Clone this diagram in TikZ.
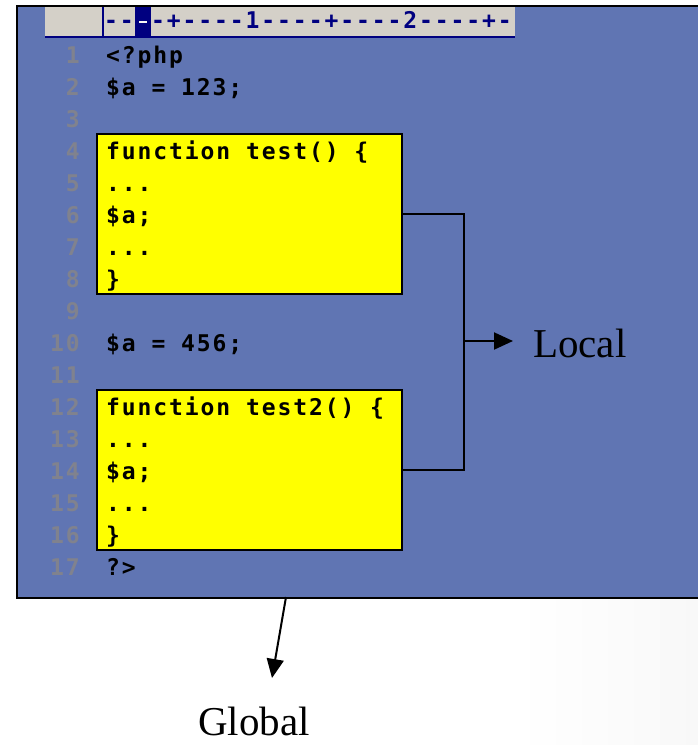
\documentclass[tikz,border=0pt]{standalone}
\usepackage{fontspec}
\setmainfont{Liberation Serif}
\newfontfamily\codefont[LetterSpace=8.3]{DejaVu Sans Mono}
\usetikzlibrary{arrows.meta}
\definecolor{panelblue}{RGB}{96,117,179}
\definecolor{boxyellow}{RGB}{255,255,0}
\definecolor{rulergray}{RGB}{212,208,200}
\definecolor{rulerblue}{RGB}{0,0,128}
\definecolor{lnumgray}{RGB}{128,130,142}
\pgfdeclarehorizontalshading{bgshade}{100bp}{color(0bp)=(white); color(62bp)=(white); color(100bp)=(black!8)}
\tikzset{
  panelbox/.style={draw=black, line width=1.5pt, fill=panelblue, anchor=north west, inner sep=0pt},
  codebox/.style={draw=black, line width=1.5pt, fill=boxyellow, anchor=north west, inner sep=0pt, minimum width=305pt, minimum height=160pt},
  codeline/.style={anchor=base west, inner sep=0pt, font=\codefont\bfseries\fontsize{23}{26}\selectfont, text=black},
  rulertext/.style={anchor=base west, inner sep=0pt, font=\codefont\bfseries\fontsize{23}{26}\selectfont, text=rulerblue},
  linenum/.style={anchor=base east, inner sep=0pt, font=\codefont\bfseries\fontsize{23}{26}\selectfont, text=lnumgray},
  label/.style={anchor=base west, inner sep=0pt, font=\fontsize{41}{46}\selectfont, text=black},
  conn/.style={line width=1.5pt, draw=black},
  arr/.style={line width=2pt, draw=black, -{Triangle[length=19pt,width=17pt]}}
}
\begin{document}
\begin{tikzpicture}[x=1pt,y=-1pt]
\useasboundingbox (0,0) rectangle (698,745);
\clip (0,0) rectangle (698,745);
% background
\shade[shading=bgshade] (0,597) rectangle (698,745);
% panel
\node[panelbox, minimum width=700pt, minimum height=592pt] (panel) at (16,5) {};
% ruler
\fill[rulergray] (45,7) rectangle (515,37);
\draw[rulerblue, line width=2pt] (45,37) -- (515,37);
\draw[rulerblue, line width=1.5pt] (103,7) -- (103,37);
\fill[rulerblue] (135,7) rectangle (151,37);
\draw[white!80!rulergray, line width=2pt] (139,22) -- (147,22);
\node[rulertext] (r1) at (104,28) {--};
\node[rulertext] (r2) at (151,28) {-+----1----+----2----+-};
% line numbers
\foreach \k in {1,...,17} {
  \node[linenum] (ln\k) at (80,{63+32*(\k-1)}) {\k};
}
% yellow boxes
\node[codebox] (box1) at (96,133) {};
\node[codebox] (box2) at (96,389) {};
% code
\node[codeline] (c1) at (106,63) {<?php};
\node[codeline] (c2) at (106,95) {\$a = 123;};
\node[codeline] (c4) at (106,159) {function test() \{};
\node[codeline] (c5) at (106,191) {...};
\node[codeline] (c6) at (106,223) {\$a;};
\node[codeline] (c7) at (106,255) {...};
\node[codeline] (c8) at (106,287) {\}};
\node[codeline] (c10) at (106,351) {\$a = 456;};
\node[codeline] (c12) at (106,415) {function test2() \{};
\node[codeline] (c13) at (106,447) {...};
\node[codeline] (c14) at (106,479) {\$a;};
\node[codeline] (c15) at (106,511) {...};
\node[codeline] (c16) at (106,543) {\}};
\node[codeline] (c17) at (106,575) {?>};
% Local bracket
\coordinate (bx) at (464,341);
\draw[conn] (box1.east) -- (box1.east -| bx) -- (box2.east -| bx) -- (box2.east);
\node[label] (local) at (533,357) {Local};
\coordinate (ltip) at (513,341);
\draw[arr] (bx) -- (ltip);
% Global
\coordinate (gstart) at (286,597);
\coordinate (gtip) at (272,678);
\draw[arr] (gstart) -- (gtip);
\node[label] (global) at (198,735) {Global};
\end{tikzpicture}
\end{document}
